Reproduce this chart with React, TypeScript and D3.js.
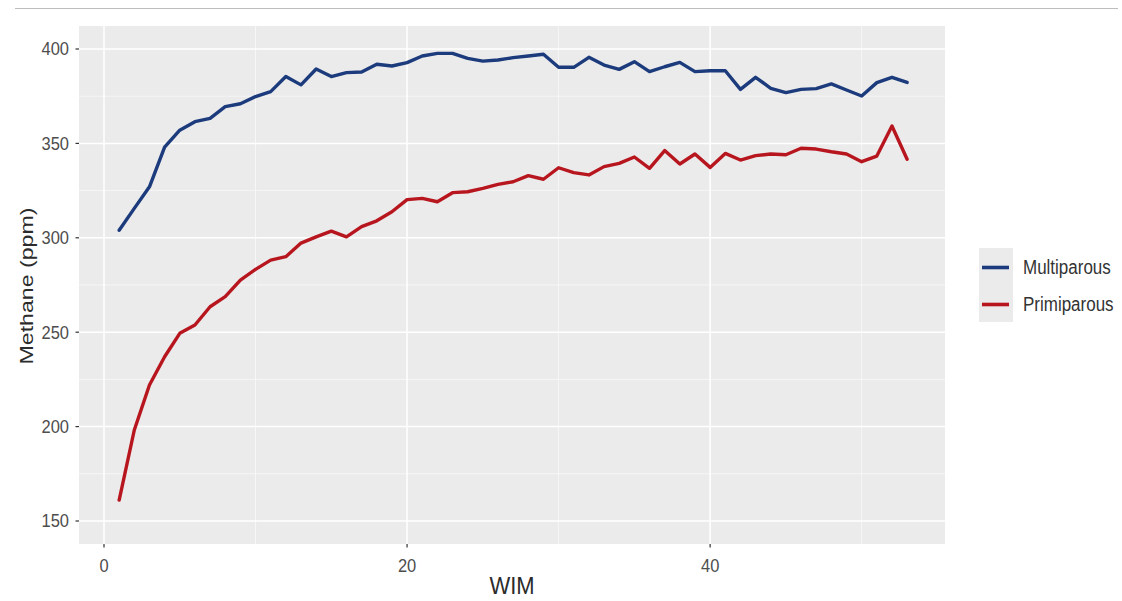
import React from "react";
import * as d3 from "d3";

const wim: number[] = Array.from({ length: 53 }, (_, i) => i + 1);

const multiparous: number[] = [
  304, 315.6, 327, 348, 357, 361.5, 363.3, 369.5, 371, 374.8,
  377.4, 385.4, 381, 389.4, 385.4, 387.5, 387.8, 391.9, 391, 392.8,
  396.3, 397.7, 397.7, 395, 393.6, 394.2, 395.4, 396.3, 397.2, 390.3,
  390.3, 395.6, 391.5, 389.2, 393.3, 388, 390.6, 392.9, 388, 388.5,
  388.5, 378.6, 385, 379.2, 376.9, 378.6, 379, 381.5, 378.3, 375.1,
  382.2, 385, 382.3,
];

const primiparous: number[] = [
  161.1, 198.2, 222, 237, 249.4, 253.8, 263.5, 268.8, 277.6, 283.3,
  288.2, 290, 297.2, 300.5, 303.5, 300.5, 305.9, 309, 313.8, 320.2,
  320.9, 319.1, 323.9, 324.4, 326.2, 328.3, 329.7, 332.9, 331, 337.1,
  334.5, 333.3, 337.7, 339.4, 342.8, 336.8, 346.2, 339.1, 344.4, 337.3,
  344.7, 341.2, 343.5, 344.4, 344, 347.4, 347, 345.6, 344.4, 340.3,
  343.3, 359.2, 341.6,
];

const seriesNames: string[] = ["Multiparous", "Primiparous"];
const seriesColors: string[] = ["#1c3b7c", "#b8161e"];

const xMajorTicks: number[] = [0, 20, 40];
const xMinorTicks: number[] = [10, 30, 50];
const yMajorTicks: number[] = [150, 200, 250, 300, 350, 400];
const yMinorTicks: number[] = [175, 225, 275, 325, 375];

const W = 1122;
const H = 601;
const panel = { left: 79, right: 945, top: 26, bottom: 544 };

export default function App() {
  const x = d3.scaleLinear().domain([-1.65, 55.5]).range([panel.left, panel.right]);
  const y = d3.scaleLinear().domain([137.82, 412.18]).range([panel.bottom, panel.top]);

  const line = d3
    .line<number>()
    .x((_, i) => x(wim[i]))
    .y((d) => y(d));

  const series = [multiparous, primiparous];
  const font = "'Liberation Sans', Arial, sans-serif";
  const tickColor = "#4d4d4d";

  return (
    <svg
      width={W}
      height={H}
      style={{ position: "absolute", left: 0, top: 0, background: "#fff" }}
      fontFamily={font}
    >
      <line x1={15} x2={1118} y1={8.5} y2={8.5} stroke="#bdbdbd" strokeWidth={1.2} />

      <rect
        x={panel.left}
        y={panel.top}
        width={panel.right - panel.left}
        height={panel.bottom - panel.top}
        fill="#ebebeb"
      />

      {yMinorTicks.map((t) => (
        <line key={"ym" + t} x1={panel.left} x2={panel.right} y1={y(t)} y2={y(t)} stroke="#f7f7f7" strokeWidth={0.9} />
      ))}
      {xMinorTicks.map((t) => (
        <line key={"xm" + t} x1={x(t)} x2={x(t)} y1={panel.top} y2={panel.bottom} stroke="#f7f7f7" strokeWidth={0.9} />
      ))}
      {yMajorTicks.map((t) => (
        <line key={"yM" + t} x1={panel.left} x2={panel.right} y1={y(t)} y2={y(t)} stroke="#ffffff" strokeWidth={1.5} />
      ))}
      {xMajorTicks.map((t) => (
        <line key={"xM" + t} x1={x(t)} x2={x(t)} y1={panel.top} y2={panel.bottom} stroke="#ffffff" strokeWidth={1.5} />
      ))}

      {series.map((s, i) => (
        <path
          key={seriesNames[i]}
          d={line(s) || ""}
          fill="none"
          stroke={seriesColors[i]}
          strokeWidth={3.4}
          strokeLinejoin="round"
          strokeLinecap="round"
        />
      ))}

      {yMajorTicks.map((t) => (
        <g key={"yt" + t}>
          <line x1={panel.left - 3.5} x2={panel.left} y1={y(t)} y2={y(t)} stroke="#333" strokeWidth={1.2} />
          <text
            transform={`translate(${panel.left - 10},${y(t)}) scale(1,1.12)`}
            textAnchor="end"
            dominantBaseline="central"
            fontSize={16.5}
            fill={tickColor}
          >
            {t}
          </text>
        </g>
      ))}

      {xMajorTicks.map((t) => (
        <g key={"xt" + t}>
          <line x1={x(t)} x2={x(t)} y1={panel.bottom} y2={panel.bottom + 3.5} stroke="#333" strokeWidth={1.2} />
          <text
            transform={`translate(${x(t)},${572}) scale(1,1.12)`}
            textAnchor="middle"
            fontSize={16.5}
            fill={tickColor}
          >
            {t}
          </text>
        </g>
      ))}

      <text
        transform={`translate(${(panel.left + panel.right) / 2},${594}) scale(1,1.08)`}
        textAnchor="middle"
        fontSize={22}
        fill="#2b2b2b"
      >
        WIM
      </text>

      <text
        transform={`translate(33,${(panel.top + panel.bottom) / 2 + 1}) rotate(-90)`}
        textAnchor="middle"
        fontSize={17.5}
        fill="#2b2b2b"
        textLength={157}
        lengthAdjust="spacingAndGlyphs"
      >
        Methane (ppm)
      </text>

      {seriesNames.map((name, i) => {
        const top = 248 + i * 37;
        return (
          <g key={"lg" + name}>
            <rect x={979} y={top} width={34} height={37} fill="#ebebeb" />
            <line
              x1={982}
              x2={1009}
              y1={top + 19.5}
              y2={top + 19.5}
              stroke={seriesColors[i]}
              strokeWidth={3.6}
            />
            <text
              transform={`translate(1023,${top + 19.5}) scale(1,1.15)`}
              dominantBaseline="central"
              fontSize={17}
              fill="#333"
            >
              {name}
            </text>
          </g>
        );
      })}
    </svg>
  );
}
